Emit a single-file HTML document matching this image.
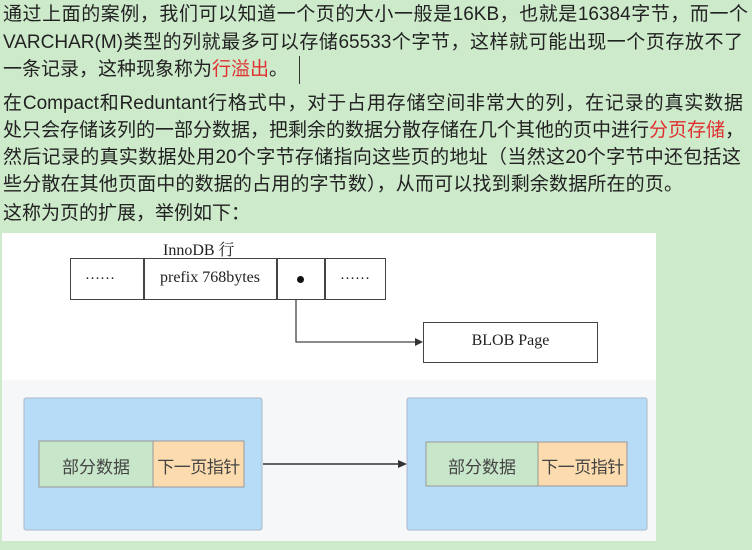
<!DOCTYPE html>
<html><head><meta charset="utf-8"><style>
body{margin:0;width:752px;height:550px;background:#cdeacb;position:relative;overflow:hidden;font-family:"Liberation Sans","Noto Sans CJK SC",sans-serif;}
.l{position:absolute;left:3px;font-size:19px;color:#222;white-space:nowrap;line-height:22px}
.j{text-align:justify;text-align-last:justify;white-space:normal}
.r{color:#e03030}
.a{position:absolute;box-sizing:border-box}
.s{font-family:"Liberation Serif","Noto Serif CJK SC",serif;color:#222}
.c{font-size:17px;color:#444;text-align:center;position:absolute}
</style></head><body>
<div class="l j" style="top:4px;width:745px">通过上面的案例，我们可以知道一个页的大小一般是16KB，也就是16384字节，而一个</div>
<div class="l j" style="top:32px;width:740px">VARCHAR(M)类型的列就最多可以存储65533个字节，这样就可能出现一个页存放不了</div>
<div class="l" style="top:59px">一条记录，这种现象称为<span class="r">行溢出</span>。</div>
<div class="a" style="left:299px;top:56px;width:1px;height:28px;background:#333"></div>
<div class="l j" style="top:93px;width:740px">在Compact和Reduntant行格式中，对于占用存储空间非常大的列，在记录的真实数据</div>
<div class="l" style="top:120px;letter-spacing:0px">处只会存储该列的一部分数据，把剩余的数据分散存储在几个其他的页中进行<span class="r">分页存储</span>，</div>
<div class="l j" style="top:147px;width:738px">然后记录的真实数据处用20个字节存储指向这些页的地址（当然这20个字节中还包括这</div>
<div class="l j" style="top:174px;width:680px">些分散在其他页面中的数据的占用的字节数），从而可以找到剩余数据所在的页。</div>
<div class="l" style="top:203px">这称为页的扩展，举例如下：</div>

<div class="a" style="left:2px;top:233px;width:654px;height:308px;background:#fff"></div>
<div class="a" style="left:2px;top:380px;width:654px;height:161px;background:#f6f7f8"></div>
<div class="a s" style="left:163px;top:237px;font-size:16px">InnoDB 行</div>
<div class="a" style="left:70px;top:258px;width:316px;height:42px;border:1.5px solid #444;background:#fff"></div>
<div class="a" style="left:143px;top:258px;width:1.5px;height:42px;background:#444"></div>
<div class="a" style="left:276px;top:258px;width:1.5px;height:42px;background:#444"></div>
<div class="a" style="left:324px;top:258px;width:1.5px;height:42px;background:#444"></div>
<div class="a s" style="left:85px;top:267px;font-size:15px">……</div>
<div class="a s" style="left:160px;top:269px;font-size:16px">prefix 768bytes</div>
<div class="a" style="left:297px;top:276px;width:7px;height:7px;border-radius:50%;background:#111"></div>
<div class="a s" style="left:340px;top:267px;font-size:15px">……</div>
<svg class="a" style="left:0;top:0" width="752" height="550">
<polyline points="296,299 296,342 416,342" fill="none" stroke="#444" stroke-width="1.3"/>
<polygon points="423,342 415,338 415,346" fill="#333"/>
<rect x="24" y="398" width="238" height="132" rx="2" fill="#b7dcf7" stroke="#a8b8c8"/>
<rect x="407" y="398" width="240" height="132" rx="2" fill="#b7dcf7" stroke="#a8b8c8"/>
<line x1="263" y1="464" x2="399" y2="464" stroke="#333" stroke-width="1.5"/>
<polygon points="407,464 398,460 398,468" fill="#333"/>
<rect x="39" y="441" width="114" height="46" fill="#c8e6c9" stroke="#999"/>
<rect x="153" y="441" width="91" height="46" fill="#fcdcae" stroke="#999"/>
<rect x="426" y="442" width="112" height="44" fill="#c8e6c9" stroke="#999"/>
<rect x="538" y="442" width="89" height="44" fill="#fcdcae" stroke="#999"/>
</svg>
<div class="a" style="left:423px;top:322px;width:175px;height:41px;border:1.5px solid #444;background:#fff"></div>
<div class="a s" style="left:423px;top:332px;width:175px;text-align:center;font-size:16px">BLOB Page</div>
<div class="c" style="left:39px;top:453px;width:114px">部分数据</div>
<div class="c" style="left:153px;top:453px;width:91px;letter-spacing:-0.5px">下一页指针</div>
<div class="c" style="left:426px;top:453px;width:112px">部分数据</div>
<div class="c" style="left:538px;top:453px;width:89px;letter-spacing:-0.5px">下一页指针</div>
</body></html>
